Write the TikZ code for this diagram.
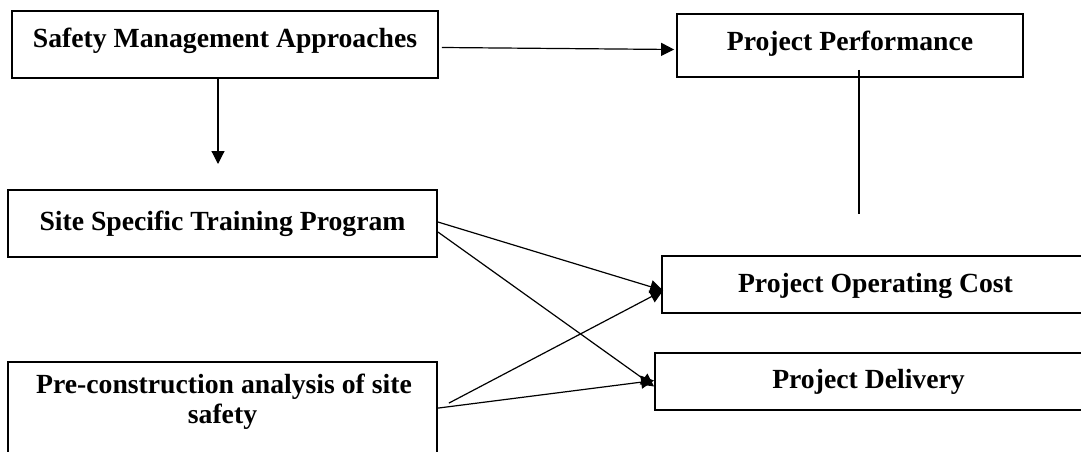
\documentclass[tikz,border=0pt]{standalone}
\usepackage{fontspec}
\setmainfont{Liberation Serif}
\usetikzlibrary{arrows.meta}
\begin{document}
\begin{tikzpicture}[x=1pt,y=-1pt,
  box/.style={draw=black, line width=1.8pt, inner sep=0pt},
  lbl/.style={font=\fontsize{27.7}{30}\selectfont\bfseries, inner sep=0pt, anchor=base},
  conn/.style={line width=1.2pt, -{Triangle[length=13pt,width=13pt]}},
  plainline/.style={line width=1.2pt}]
\useasboundingbox (0,0) rectangle (1081,452);
% boxes
\node[box, minimum width=426pt, minimum height=67pt] (b1) at (225,44.5) {};
\node[box, minimum width=346pt, minimum height=63pt] (b2) at (850,45.5) {};
\node[box, minimum width=429pt, minimum height=67pt] (b3) at (222.5,223.5) {};
\node[box, minimum width=427pt, minimum height=57pt] (b4) at (875.5,284.5) {};
\node[box, minimum width=427pt, minimum height=57pt] (b5) at (868.5,381.5) {};
\node[box, minimum width=429pt, minimum height=108pt] (pre) at (222.5,416) {};
% labels
\node[lbl] (t1) at (225,48) {Safety Management Approaches};
\node[lbl] (t2) at (850,51) {Project Performance};
\node[lbl] (t3) at (222.5,230) {Site Specific Training Program};
\node[lbl] (t4) at (875.5,292) {Project Operating Cost};
\node[lbl] (t5) at (868.5,388) {Project Delivery};
\node[lbl] (t6a) at (224,393) {Pre-construction analysis of site};
\node[lbl] (t6b) at (222.5,423) {safety};
% connectors
\coordinate (d1) at (218,164);
\coordinate (p1) at (859,214);
\draw[conn] ([xshift=3pt,yshift=-3pt]b1.east) -- ([xshift=-2pt,yshift=-4pt]b2.west);
\draw[conn] ([xshift=-7pt]b1.south) -- (d1);
\draw[plainline] ([xshift=9pt,yshift=8pt]b2.south) -- (p1);
\draw[conn] ([yshift=1.5pt]b3.east) -- ([xshift=2pt,yshift=-6pt]b4.west);
\draw[conn] ([yshift=-8.5pt]b3.east) -- ([yshift=-5pt]b5.west);
\draw[conn] ([xshift=11pt,yshift=-42pt]pre.north east) -- ([xshift=2pt,yshift=-6pt]b4.west);
\draw[conn] ([yshift=-47pt]pre.north east) -- ([yshift=1pt]b5.west);
\end{tikzpicture}
\end{document}
